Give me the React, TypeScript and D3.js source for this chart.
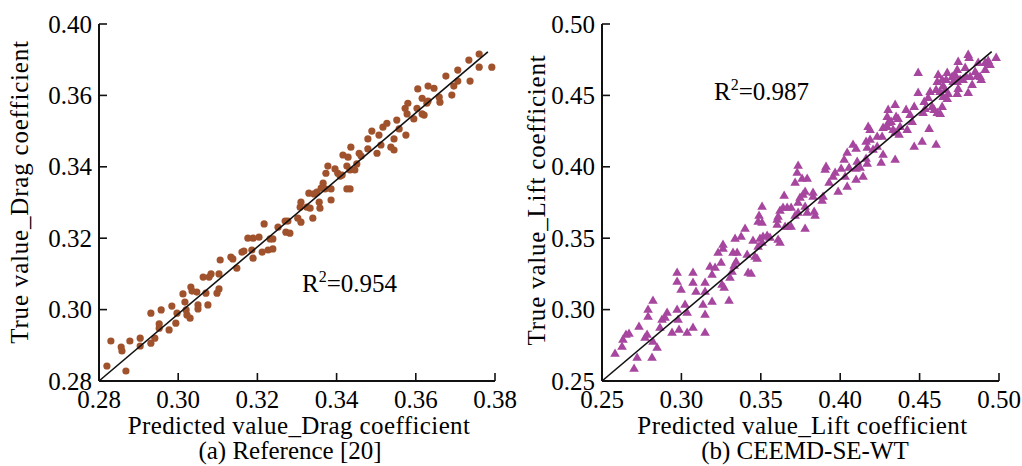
import React from 'react';
import * as d3 from 'd3';

// Panel (a): Reference [20] — drag coefficient
const dragPredicted = [0.2820,0.2830,0.2856,0.2858,0.2868,0.2878,0.2904,0.2904,0.2931,0.2931,0.2941,0.2957,0.2952,0.2952,0.2977,0.2984,0.2994,0.2997,0.3012,0.3017,0.3020,0.3022,0.3030,0.3032,0.3035,0.3047,0.3050,0.3050,0.3063,0.3070,0.3075,0.3078,0.3083,0.3098,0.3103,0.3106,0.3103,0.3133,0.3138,0.3148,0.3161,0.3166,0.3176,0.3189,0.3189,0.3186,0.3204,0.3212,0.3227,0.3239,0.3217,0.3232,0.3239,0.3252,0.3270,0.3277,0.3272,0.3282,0.3302,0.3310,0.3308,0.3310,0.3325,0.3333,0.3340,0.3330,0.3343,0.3350,0.3356,0.3358,0.3366,0.3371,0.3386,0.3386,0.3378,0.3396,0.3403,0.3414,0.3426,0.3416,0.3429,0.3361,0.3373,0.3409,0.3426,0.3434,0.3434,0.3446,0.3451,0.3436,0.3457,0.3462,0.3479,0.3479,0.3489,0.3502,0.3507,0.3512,0.3517,0.3527,0.3537,0.3545,0.3545,0.3552,0.3558,0.3575,0.3573,0.3578,0.3580,0.3595,0.3603,0.3605,0.3616,0.3621,0.3616,0.3628,0.3631,0.3631,0.3646,0.3659,0.3661,0.3676,0.3691,0.3696,0.3706,0.3706,0.3737,0.3734,0.3760,0.3760,0.3792];
const dragTrue = [0.2842,0.2912,0.2895,0.2884,0.2828,0.2912,0.2920,0.2898,0.2906,0.2990,0.2920,0.2999,0.2960,0.2948,0.2943,0.3010,0.2962,0.2990,0.3044,0.3021,0.2999,0.2985,0.2976,0.3063,0.3052,0.3049,0.3013,0.3002,0.3091,0.3046,0.3013,0.3091,0.3100,0.3046,0.3058,0.3139,0.3100,0.3147,0.3142,0.3116,0.3161,0.3164,0.3200,0.3200,0.3144,0.3167,0.3203,0.3161,0.3167,0.3170,0.3240,0.3198,0.3198,0.3231,0.3248,0.3248,0.3217,0.3214,0.3256,0.3245,0.3287,0.3301,0.3287,0.3284,0.3256,0.3326,0.3324,0.3329,0.3301,0.3284,0.3354,0.3338,0.3338,0.3307,0.3402,0.3394,0.3382,0.3377,0.3338,0.3433,0.3427,0.3340,0.3382,0.3374,0.3402,0.3338,0.3391,0.3391,0.3408,0.3455,0.3438,0.3430,0.3478,0.3450,0.3500,0.3438,0.3489,0.3461,0.3511,0.3522,0.3455,0.3447,0.3478,0.3531,0.3506,0.3489,0.3564,0.3548,0.3578,0.3534,0.3564,0.3618,0.3548,0.3545,0.3592,0.3578,0.3584,0.3626,0.3620,0.3595,0.3581,0.3654,0.3601,0.3626,0.3640,0.3671,0.3640,0.3699,0.3716,0.3679,0.3679];
const dragFitX = [0.28, 0.3782];
const dragFitY = [0.28, 0.3722];
const dragXTicks = [0.28, 0.30, 0.32, 0.34, 0.36, 0.38];
const dragXTickLabels = ['0.28', '0.30', '0.32', '0.34', '0.36', '0.38'];
const dragYTicks = [0.28, 0.30, 0.32, 0.34, 0.36, 0.38];
const dragYTickLabels = ['0.28', '0.30', '0.32', '0.34', '0.36', '0.40'];

// Panel (b): CEEMD-SE-WT — lift coefficient
const liftPredicted = [0.2582,0.2626,0.2632,0.2651,0.2670,0.2702,0.2721,0.2733,0.2771,0.2784,0.2790,0.2790,0.2815,0.2821,0.2821,0.2847,0.2865,0.2897,0.2910,0.2941,0.2973,0.2979,0.2973,0.2973,0.2985,0.2998,0.3036,0.3036,0.3073,0.3149,0.3149,0.2878,
0.3023,0.3073,0.3073,0.3092,0.3149,0.3136,0.3149,0.3193,0.3180,0.3193,0.3212,0.3250,0.3231,0.3262,0.3262,0.3256,0.3269,0.3300,0.3306,0.3319,0.3332,0.3344,0.3351,0.3325,0.3338,0.3376,0.3401,0.3414,0.3420,0.3439,0.3451,0.3464,0.3477,0.3483,0.3495,0.3514,0.3508,0.3483,0.3489,0.3508,0.3540,0.3558,0.3609,0.3621,0.3603,0.3603,0.3609,0.3621,0.3640,0.3666,0.3691,0.3672,0.3691,0.3716,0.3735,0.3735,0.3747,0.3766,0.3779,0.3779,0.3792,0.3779,0.3829,0.3829,0.3836,0.3842,0.3647,0.3729,0.3716,0.3760,0.3792,0.3735,0.3892,0.3886,0.3911,0.3905,0.3930,0.3955,0.3968,0.3987,0.4006,0.4031,0.4044,0.4025,0.4044,0.4081,0.4100,0.4056,0.4100,0.4107,0.4100,
0.3508,0.3653,
0.4125,0.4144,0.4163,0.4170,0.4233,0.4233,0.4264,0.4270,0.4258,0.4270,0.4176,0.4188,0.4188,0.4163,0.4170,0.4207,0.4346,0.4346,0.4302,0.4296,0.4302,0.4321,0.4296,0.4352,0.4365,0.4371,0.4333,0.4346,0.4377,0.4415,0.4440,0.4453,0.4466,0.4422,0.4466,0.4516,0.4560,0.4604,0.4491,0.4529,0.4522,0.4535,0.4554,0.4566,0.4579,0.4592,0.4611,0.4630,0.4642,0.4491,0.4617,0.4611,0.4642,0.4648,0.4667,0.4674,0.4604,0.4629,0.4648,0.4661,0.4674,0.4680,0.4737,0.4743,0.4705,0.4724,0.4737,0.4711,0.4737,0.4743,0.4755,0.4774,0.4787,0.4793,0.4806,0.4812,0.4806,0.4818,0.4831,0.4850,0.4863,0.4869,0.4881,0.4888,0.4913,0.4932,0.4944,0.4913,0.4982];
const liftTrue = [0.2689,0.2738,0.2787,0.2822,0.2829,0.2584,0.2661,0.2878,0.2801,0.2822,0.2948,0.2997,0.2661,0.3060,0.2773,0.2731,0.2871,0.2941,0.2976,0.2836,0.2997,0.2927,0.3256,0.3193,0.2857,0.3137,0.2976,0.2836,0.2871,0.2962,0.2836,0.2927,
0.3032,0.3256,0.3186,0.3123,0.3186,0.3032,0.3123,0.3053,0.3298,0.3242,0.3291,0.3326,0.3396,0.3452,0.3424,0.3172,0.3151,0.3060,0.3221,0.3263,0.3305,0.3333,0.3396,0.3396,0.3494,0.3508,0.3564,0.3382,0.3256,0.3249,0.3480,0.3368,0.3354,0.3438,0.3494,0.3508,0.3606,0.3613,0.3655,0.3718,0.3515,0.3501,0.3487,0.3466,0.3592,0.3627,0.3648,0.3690,0.3711,0.3711,0.3711,0.3578,0.3578,0.3655,0.3676,0.3746,0.3781,0.3802,0.3823,0.3564,0.3676,0.3718,0.3788,0.3816,0.3683,0.3655,0.3795,0.3956,0.3886,0.3914,0.3914,0.4005,0.3788,0.3760,0.3998,0.3977,0.3886,0.3928,0.3956,0.3823,0.3984,0.3928,0.3858,0.4047,0.4096,0.4152,0.4124,0.3991,0.3984,0.4033,0.3907,
0.3466,0.3578,
0.3991,0.3928,0.4054,0.4019,0.4208,0.4138,0.4208,0.4271,0.4026,0.4082,0.4278,0.4257,0.4187,0.4173,0.4131,0.4117,0.4432,0.4047,0.4397,0.4348,0.4306,0.4313,0.4278,0.4348,0.4334,0.4222,0.4257,0.4236,0.4278,0.4397,0.4362,0.4313,0.4418,0.4257,0.4138,0.4173,0.4264,0.4152,0.4516,0.4453,0.4376,0.4404,0.4481,0.4523,0.4418,0.4397,0.4376,0.4369,0.4418,0.4656,0.4642,0.4593,0.4607,0.4565,0.4607,0.4656,0.4537,0.4523,0.4488,0.4537,0.4474,0.4509,0.4509,0.4544,0.4628,0.4642,0.4677,0.4593,0.4593,0.4733,0.4607,0.4607,0.4691,0.4628,0.4782,0.4761,0.4516,0.4628,0.4572,0.4663,0.4635,0.4726,0.4628,0.4607,0.4726,0.4740,0.4712,0.4677,0.4761];
const liftFitX = [0.25, 0.4954];
const liftFitY = [0.25, 0.4806];
const liftTicks = [0.25, 0.30, 0.35, 0.40, 0.45, 0.50];
const liftTickLabels = ['0.25', '0.30', '0.35', '0.40', '0.45', '0.50'];

const FONT = '"Liberation Serif", "Times New Roman", serif';
const BROWN = '#A0522D';
const PURPLE = '#A6469E';

type PanelProps = {
  xDomain: [number, number];
  xRange: [number, number];
  xTicks: number[];
  xLabels: string[];
  yTicks: number[];
  yLabels: string[];
  px: number[];
  py: number[];
  fitX: number[];
  fitY: number[];
  marker: 'circle' | 'triangle';
  color: string;
  xTitle: string;
  yTitle: string;
  yTitleX: number;
  yTitleY: number;
  caption: string;
  captionX: number;
  r2: string;
  r2X: number;
  r2Y: number;
};

function Panel(p: PanelProps) {
  const x = d3.scaleLinear().domain(p.xDomain).range(p.xRange);
  const y = d3.scaleLinear().domain(p.xDomain).range([381, 24]);
  const [x0, x1] = p.xRange;
  const y0 = 381;
  const y1 = 24;
  const tri = d3.symbol(d3.symbolTriangle, 40)() as string;
  const line = d3.line<number>().x((_, i) => x(p.fitX[i])).y((_, i) => y(p.fitY[i]));
  const cx = (x0 + x1) / 2;
  return (
    <g fontFamily={FONT} fill="#000">
      {p.px.map((v, i) =>
        p.marker === 'circle' ? (
          <circle key={i} cx={x(v)} cy={y(p.py[i])} r={3.6} fill={p.color} />
        ) : (
          <path key={i} d={tri} transform={`translate(${x(v)},${y(p.py[i])})`} fill={p.color} />
        )
      )}
      <path d={line(p.fitX) || ''} stroke="#111" strokeWidth={1.6} fill="none" />
      <line x1={x0} x2={x1} y1={y0} y2={y0} stroke="#111" strokeWidth={2} />
      <line x1={x0} x2={x0} y1={y0} y2={y1} stroke="#111" strokeWidth={2} />
      {p.xTicks.map((t, i) => (
        <g key={'xt' + i}>
          <line x1={x(t)} x2={x(t)} y1={y0} y2={y0 - 8} stroke="#111" strokeWidth={1.6} />
          <text x={x(t)} y={408} fontSize={25} textAnchor="middle">{p.xLabels[i]}</text>
        </g>
      ))}
      {p.yTicks.map((t, i) => (
        <g key={'yt' + i}>
          <line x1={x0} x2={x0 + 8} y1={y(t)} y2={y(t)} stroke="#111" strokeWidth={1.6} />
          <text x={x0 - 7} y={y(t) + 8.5} fontSize={25} textAnchor="end">{p.yLabels[i]}</text>
        </g>
      ))}
      <text x={cx + 2} y={434} fontSize={25} textAnchor="middle" letterSpacing={0.4}>{p.xTitle}</text>
      <text x={p.captionX} y={459} fontSize={25} textAnchor="middle">{p.caption}</text>
      <text transform={`translate(${p.yTitleX},${p.yTitleY}) rotate(-90)`} fontSize={25} textAnchor="middle" letterSpacing={0.8}>{p.yTitle}</text>
      <text x={p.r2X} y={p.r2Y} fontSize={25}>
        R<tspan fontSize={16} dy={-10}>2</tspan><tspan dy={10}>={p.r2}</tspan>
      </text>
    </g>
  );
}

export default function App() {
  return (
    <svg width={1022} height={466} style={{ position: 'absolute', left: 0, top: 0, background: '#fff' }}>
      <rect width={1022} height={466} fill="#fff" />
      <Panel
        xDomain={[0.28, 0.38]}
        xRange={[99, 495]}
        xTicks={dragXTicks}
        xLabels={dragXTickLabels}
        yTicks={dragYTicks}
        yLabels={dragYTickLabels}
        px={dragPredicted}
        py={dragTrue}
        fitX={dragFitX}
        fitY={dragFitY}
        marker="circle"
        color={BROWN}
        xTitle="Predicted value_Drag coefficient"
        yTitle="True value_Drag coefficient"
        yTitleX={28}
        yTitleY={192}
        caption="(a) Reference [20]"
        captionX={290}
        r2="0.954"
        r2X={302}
        r2Y={292}
      />
      <Panel
        xDomain={[0.25, 0.5]}
        xRange={[602, 999]}
        xTicks={liftTicks}
        xLabels={liftTickLabels}
        yTicks={liftTicks}
        yLabels={liftTickLabels}
        px={liftPredicted}
        py={liftTrue}
        fitX={liftFitX}
        fitY={liftFitY}
        marker="triangle"
        color={PURPLE}
        xTitle="Predicted value_Lift coefficient"
        yTitle="True value_Lift coefficient"
        yTitleX={545}
        yTitleY={200}
        caption="(b) CEEMD-SE-WT"
        captionX={805}
        r2="0.987"
        r2X={714}
        r2Y={100}
      />
    </svg>
  );
}
